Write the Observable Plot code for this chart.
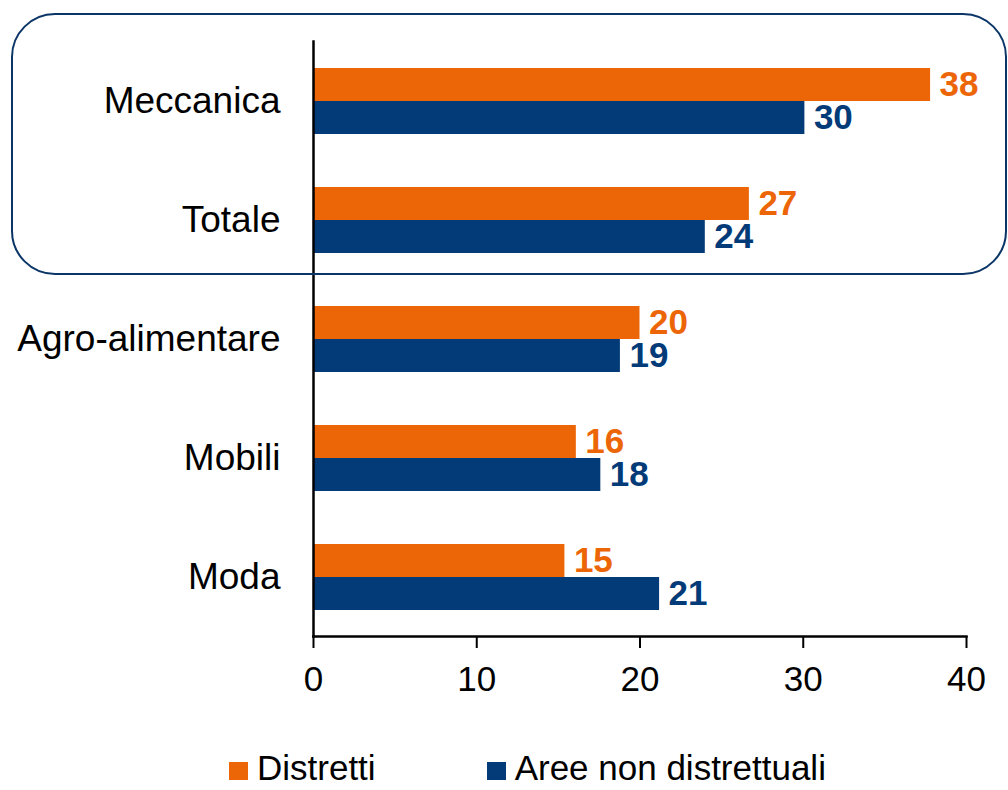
<!DOCTYPE html>
<html>
<head>
<meta charset="utf-8">
<script src="https://cdn.jsdelivr.net/npm/d3@7"></script>
<script src="https://cdn.jsdelivr.net/npm/@observablehq/plot@0.6"></script>
<style>
  html, body { margin: 0; padding: 0; background: #fff; }
  #wrap { position: relative; width: 1008px; height: 790px; font-family: "Liberation Sans", Arial, sans-serif; }
  #box { position: absolute; left: 11px; top: 13px; width: 992px; height: 258px; border: 2.5px solid #0B3566; border-radius: 44px; pointer-events: none; }
  #legend { position: absolute; left: 229px; top: 753px; display: flex; align-items: center; font-size: 35px; line-height: 30px; color: #000; }
  .item { display: flex; align-items: center; }
  .sw { width: 19px; height: 18px; margin-right: 9px; margin-top: 5px; }
</style>
</head>
<body>
<div id="wrap">
  <div id="chart"></div>
  <div id="box"></div>
  <div id="legend"></div>
</div>
<script>
const categories = ["Meccanica", "Totale", "Agro-alimentare", "Mobili", "Moda"];
const series = ["Distretti", "Aree non distrettuali"];
const distretti = [37.8, 26.7, 20.0, 16.1, 15.4];
const areeNonDistrettuali = [30.1, 24.0, 18.8, 17.6, 21.2];
const xTicks = [0, 10, 20, 30, 40];
const colors = ["#EC6607", "#033A78"];

const data = [];
categories.forEach((c, i) => {
  data.push({category: c, series: series[0], value: distretti[i]});
  data.push({category: c, series: series[1], value: areeNonDistrettuali[i]});
});

const chart = Plot.plot({
  width: 1008,
  height: 720,
  marginLeft: 313,
  marginRight: 42,
  marginTop: 40,
  marginBottom: 84,
  style: {fontFamily: "'Liberation Sans', Arial, sans-serif", fontSize: "35px", color: "#000", background: "#fff"},
  x: {domain: [0, 40], axis: null},
  y: {domain: series, paddingInner: 0, paddingOuter: 0.753, axis: null},
  fy: {domain: categories, padding: 0, axis: null},
  color: {domain: series, range: colors},
  marks: [
    Plot.barX(data, {x: "value", y: "series", fy: "category", fill: "series"}),
    Plot.text(data, {
      x: "value", y: "series", fy: "category", text: d => String(Math.round(d.value)),
      fill: "series", textAnchor: "start", dx: 9, fontSize: 35, fontWeight: "bold"
    }),
    Plot.frame({anchor: "left", facet: "super", stroke: "#000", strokeWidth: 2.5}),
    Plot.frame({anchor: "bottom", facet: "super", stroke: "#000", strokeWidth: 2.5}),
    Plot.axisX({ticks: xTicks, tickSize: 12, tickPadding: 18, strokeWidth: 2, fontSize: 35, label: null}),
    Plot.axisFy({anchor: "left", tickSize: 0, tickPadding: 33, fontSize: 37, label: null})
  ]
});
document.getElementById("chart").appendChild(chart);

const legend = document.getElementById("legend");
series.forEach((s, i) => {
  const item = document.createElement("div");
  item.className = "item";
  if (i > 0) item.style.marginLeft = "111px";
  const sw = document.createElement("div");
  sw.className = "sw";
  sw.style.background = colors[i];
  const t = document.createElement("span");
  t.textContent = s;
  item.appendChild(sw);
  item.appendChild(t);
  legend.appendChild(item);
});
</script>
</body>
</html>
